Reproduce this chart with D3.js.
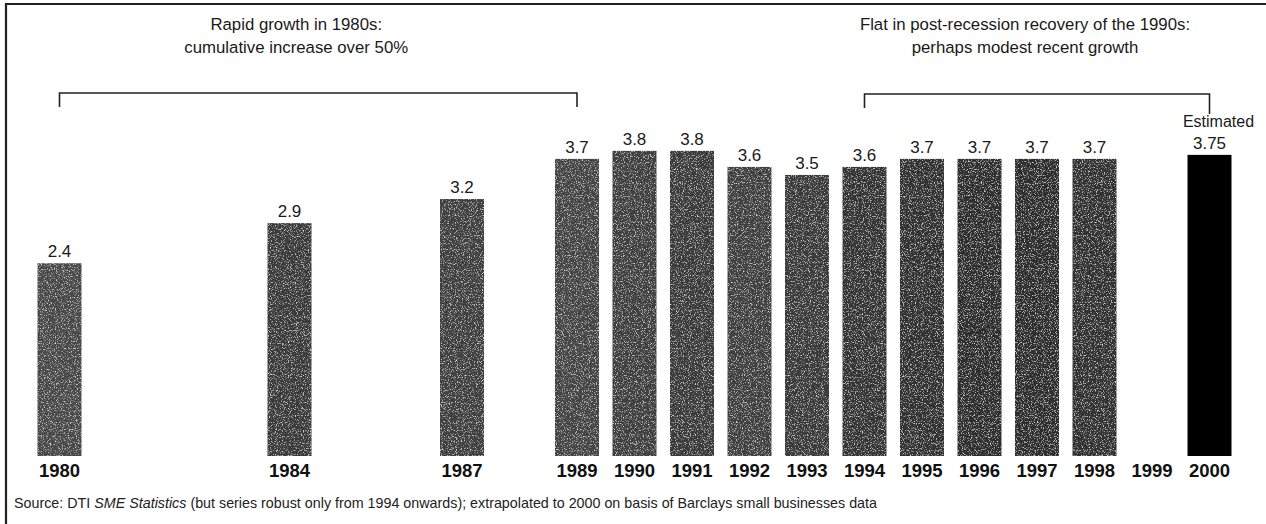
<!DOCTYPE html>
<html>
<head>
<meta charset="utf-8">
<script src="https://cdn.jsdelivr.net/npm/d3@7"></script>
<style>
  body { margin: 0; background: #fff; }
  svg { display: block; font-family: "Liberation Sans", Arial, sans-serif; }
</style>
</head>
<body>
<div id="container"></div>
<script>
/* CONSTANTS AND GLOBALS */
const width = 1266;
const height = 524;

/* DATA */
const allYears = d3.range(1980, 2001);
const years = [1980, 1984, 1987, 1989, 1990, 1991, 1992, 1993, 1994, 1995, 1996, 1997, 1998, 2000];
const values = [2.4, 2.9, 3.2, 3.7, 3.8, 3.8, 3.6, 3.5, 3.6, 3.7, 3.7, 3.7, 3.7, 3.75];
const valueLabels = ["2.4", "2.9", "3.2", "3.7", "3.8", "3.8", "3.6", "3.5", "3.6", "3.7", "3.7", "3.7", "3.7", "3.75"];
const tickYears = [1980, 1984, 1987, 1989, 1990, 1991, 1992, 1993, 1994, 1995, 1996, 1997, 1998, 1999, 2000];
const barShades = ["#4a4a4a", "#3a3a3a", "#404040", "#444444", "#404040", "#3a3a3a", "#404040", "#3b3b3b",
                   "#363636", "#313131", "#2e2e2e", "#2e2e2e", "#313131", "#000000"];

const bracketFrom = [1980, 1994];
const bracketTo = [1989, 2000];
const bracketText = [
  ["Rapid growth in 1980s:", "cumulative increase over 50%"],
  ["Flat in post-recession recovery of the 1990s:", "perhaps modest recent growth"]
];
const estimatedYear = 2000;
const sourceParts = [
  { t: "Source: DTI ", italic: false },
  { t: "SME Statistics", italic: true },
  { t: " (but series robust only from 1994 onwards); extrapolated to 2000 on basis of Barclays small businesses data", italic: false }
];

const data = years.map((y, i) => ({ year: y, value: values[i], label: valueLabels[i], shade: barShades[i] }));

const svg = d3.select("#container").append("svg")
  .attr("width", width)
  .attr("height", height);

svg.append("rect").attr("width", width).attr("height", height).attr("fill", "#fff");

// speckled print texture
const defs = svg.append("defs");
const grain = defs.append("filter").attr("id", "grain")
  .attr("x", 0).attr("y", 0).attr("width", 1).attr("height", 1);
grain.append("feTurbulence").attr("type", "fractalNoise").attr("baseFrequency", 0.85)
  .attr("numOctaves", 2).attr("seed", 7).attr("result", "noise");
grain.append("feColorMatrix").attr("in", "noise").attr("type", "matrix")
  .attr("values", "0 0 0 0 0.75  0 0 0 0 0.75  0 0 0 0 0.75  3.4 0 0 0 -1.85")
  .attr("result", "specks");
grain.append("feComposite").attr("in", "specks").attr("in2", "SourceGraphic")
  .attr("operator", "in").attr("result", "clipped");
const merge = grain.append("feMerge");
merge.append("feMergeNode").attr("in", "SourceGraphic");
merge.append("feMergeNode").attr("in", "clipped");

// frame (top and left edges of the scanned box)
svg.append("path")
  .attr("d", `M6,${height} V4 H${width}`)
  .attr("fill", "none").attr("stroke", "#222").attr("stroke-width", 2.2);

/* SCALES */
const xScale = d3.scaleBand()
  .domain(allYears)
  .range([37.5, 1231.5])
  .paddingInner(0.235)
  .paddingOuter(0);

const yScale = d3.scaleLinear()
  .domain([0, 4])
  .range([456, 456 - 4 * 80.3]);

const cx = y => xScale(y) + xScale.bandwidth() / 2;

/* BARS */
svg.selectAll("rect.bar")
  .data(data)
  .join("rect")
  .attr("class", "bar")
  .attr("x", d => xScale(d.year))
  .attr("y", d => yScale(d.value))
  .attr("width", xScale.bandwidth())
  .attr("height", d => yScale(0) - yScale(d.value))
  .attr("fill", d => d.shade)
  .attr("filter", d => d.year === estimatedYear ? null : "url(#grain)");

svg.selectAll("text.val")
  .data(data)
  .join("text")
  .attr("class", "val")
  .attr("x", d => cx(d.year))
  .attr("y", d => yScale(d.value) - 6)
  .attr("text-anchor", "middle")
  .attr("font-size", 17)
  .attr("fill", "#1a1a1a")
  .text(d => d.label);

svg.append("text")
  .attr("x", cx(estimatedYear) + 9)
  .attr("y", yScale(3.75) - 28)
  .attr("text-anchor", "middle")
  .attr("font-size", 16)
  .attr("fill", "#1a1a1a")
  .text("Estimated");

/* AXIS */
const xAxis = d3.axisBottom(xScale).tickValues(tickYears).tickSize(0).tickPadding(8);
const axisG = svg.append("g")
  .attr("transform", `translate(0, ${yScale(0)})`)
  .call(xAxis);
axisG.select(".domain").remove();
axisG.selectAll("text")
  .attr("font-family", "Liberation Sans, Arial, sans-serif")
  .attr("font-size", 18.5)
  .attr("font-weight", "bold")
  .attr("fill", "#111")
  .attr("dy", "0.71em");

/* BRACKETS + ANNOTATIONS */
const bracketY = [93, 94];
const tickDown = [[14, 14], [14, 20]];
const textShift = [-22, -12];
bracketFrom.forEach((from, i) => {
  const x0 = cx(from), x1 = cx(bracketTo[i]);
  svg.append("path")
    .attr("d", `M${x0},${bracketY[i] + tickDown[i][0]} V${bracketY[i]} H${x1} V${bracketY[i] + tickDown[i][1]}`)
    .attr("fill", "none").attr("stroke", "#222").attr("stroke-width", 1.6);
  const t = svg.append("text")
    .attr("x", (x0 + x1) / 2 + textShift[i])
    .attr("y", 30)
    .attr("text-anchor", "middle")
    .attr("font-size", 16.8)
    .attr("fill", "#1a1a1a");
  bracketText[i].forEach((line, j) => {
    t.append("tspan")
      .attr("x", (x0 + x1) / 2 + textShift[i])
      .attr("dy", j === 0 ? 0 : 23)
      .text(line);
  });
});

/* SOURCE */
const src = svg.append("text")
  .attr("x", 14)
  .attr("y", 508)
  .attr("font-size", 14.3)
  .attr("fill", "#222");
sourceParts.forEach(p => {
  src.append("tspan")
    .attr("font-style", p.italic ? "italic" : "normal")
    .text(p.t);
});
</script>
</body>
</html>
